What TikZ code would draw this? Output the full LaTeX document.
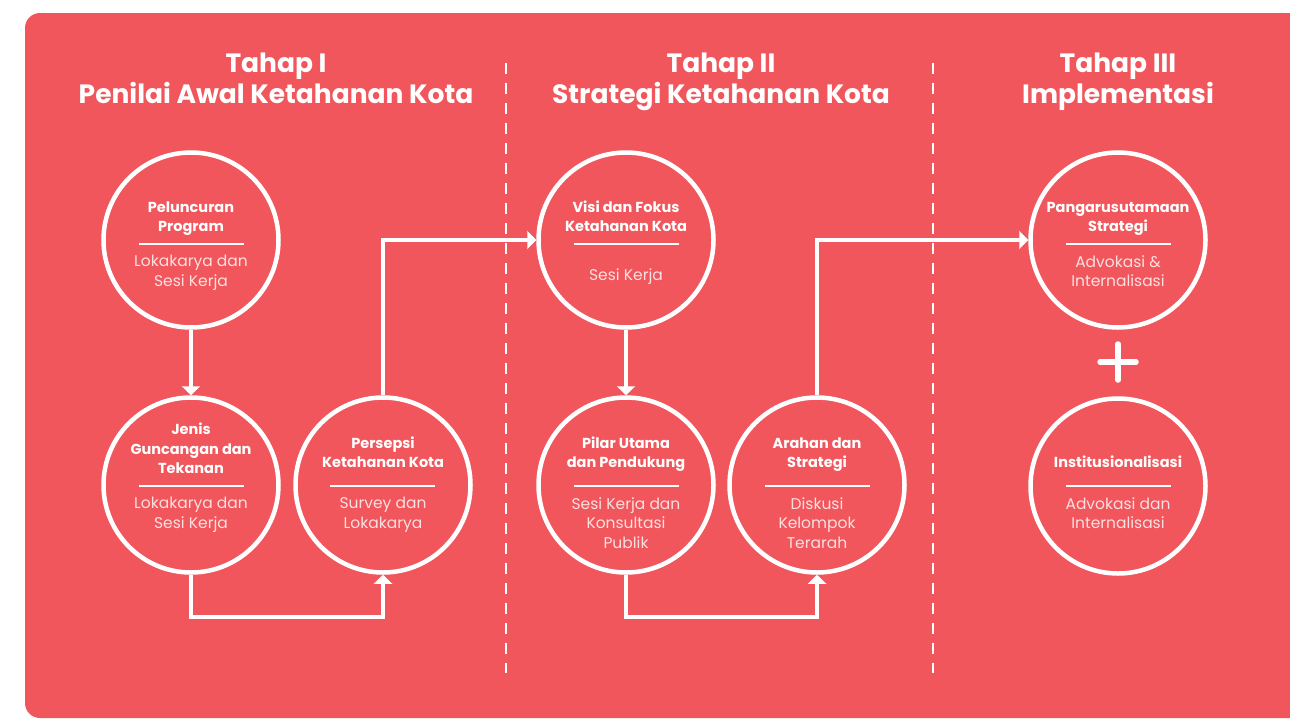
\documentclass[tikz,border=0pt]{standalone}
\usepackage{fontspec}
\setmainfont{Poppins}
\usetikzlibrary{arrows.meta}
\definecolor{merah}{RGB}{240,86,91}
\definecolor{pucat}{RGB}{252,224,225}
\tikzset{
    tahap/.style={draw=white, line width=4.5pt, circle, minimum size=175pt, inner sep=0pt, fill=none},
    judul/.style={text=white, font=\bfseries\fontsize{14.5}{19.5}\selectfont, align=center, inner sep=0pt, text depth=0pt, anchor=south},
    isi/.style={text=pucat, font=\fontsize{15.5}{19.5}\selectfont, align=center, inner sep=0pt, anchor=north},
    pemisah/.style={draw=white, line width=2.5pt},
    alur/.style={draw=white, line width=4pt, -{Stealth[length=9pt,width=18pt,inset=0pt]}},
    sekat/.style={draw=white, line width=2.5pt, dash pattern=on 11pt off 9pt},
    kepala/.style={text=white, font=\bfseries\fontsize{26.5}{31}\selectfont, align=center, inner sep=0pt, anchor=north}
}
\begin{document}
\begin{tikzpicture}[x=1pt,y=-1pt]

    \useasboundingbox (0,0) rectangle (1290,718);
    \fill[merah, rounded corners=15pt] (25,13) rectangle (1330,718);

    \draw[sekat] (506,63) -- (506,673);
    \draw[sekat] (933,63) -- (933,673);

    \node[kepala] (kepala1) at (276,53){Tahap I\\Penilai Awal Ketahanan Kota};
    \node[kepala] (kepala2) at (721,53){Tahap II\\Strategi Ketahanan Kota};
    \node[kepala] (kepala3) at (1118,53){Tahap III\\Implementasi};

    % Tahap I
    \node[tahap] (peluncuran) at (191,240){};
    \draw[pemisah] (139,244) -- (244,244);
    \node[judul] (peluncuran-judul) at (191,232){Peluncuran\\Program};
    \node[isi] (peluncuran-isi) at (191,255){Lokakarya dan\\Sesi Kerja};

    \node[tahap] (jenis) at (191,485){};
    \draw[pemisah] (139,486) -- (244,486);
    \node[judul] (jenis-judul) at (191,474){Jenis\\Guncangan dan\\Tekanan};
    \node[isi] (jenis-isi) at (191,497){Lokakarya dan\\Sesi Kerja};

    \node[tahap] (persepsi) at (383,485){};
    \draw[pemisah] (330,486) -- (435,486);
    \node[judul] (persepsi-judul) at (383,468){Persepsi\\Ketahanan Kota};
    \node[isi] (persepsi-isi) at (383,497){Survey dan\\Lokakarya};

    % Tahap II
    \node[tahap] (visi) at (626,240){};
    \draw[pemisah] (574,244) -- (679,244);
    \node[judul] (visi-judul) at (626,232){Visi dan Fokus\\Ketahanan Kota};
    \node[isi] (visi-isi) at (626,268){Sesi Kerja};

    \node[tahap] (pilar) at (626,485){};
    \draw[pemisah] (574,486) -- (679,486);
    \node[judul] (pilar-judul) at (626,468){Pilar Utama\\dan Pendukung};
    \node[isi] (pilar-isi) at (626,497){Sesi Kerja dan\\Konsultasi\\Publik};

    \node[tahap] (arahan) at (817,485){};
    \draw[pemisah] (765,486) -- (870,486);
    \node[judul] (arahan-judul) at (817,468){Arahan dan\\Strategi};
    \node[isi] (arahan-isi) at (817,497){Diskusi\\Kelompok\\Terarah};

    % Tahap III
    \node[tahap] (pengarusutamaan) at (1118,240){};
    \draw[pemisah] (1066,244) -- (1171,244);
    \node[judul] (pengarusutamaan-judul) at (1118,232){Pangarusutamaan\\Strategi};
    \node[isi] (pengarusutamaan-isi) at (1118,255){Advokasi \&\\Internalisasi};

    \node[tahap] (institusi) at (1118,486){};
    \draw[pemisah] (1066,486) -- (1171,486);
    \node[judul] (institusi-judul) at (1118,468){Institusionalisasi};
    \node[isi] (institusi-isi) at (1118,497){Advokasi dan\\Internalisasi};

    \draw[white, line width=5.5pt, line cap=round] (1100,362) -- (1136,362)
        (1118,344) -- (1118,380);

    \draw[alur] (peluncuran) -- (jenis);
    \draw[alur] (jenis.south) -- ++(0,42) -| (persepsi.south);
    \draw[alur] (persepsi.north) |- (visi.west);
    \draw[alur] (visi) -- (pilar);
    \draw[alur] (pilar.south) -- ++(0,42) -| (arahan.south);
    \draw[alur] (arahan.north) |- (pengarusutamaan.west);
    \end{tikzpicture}
\end{document}
